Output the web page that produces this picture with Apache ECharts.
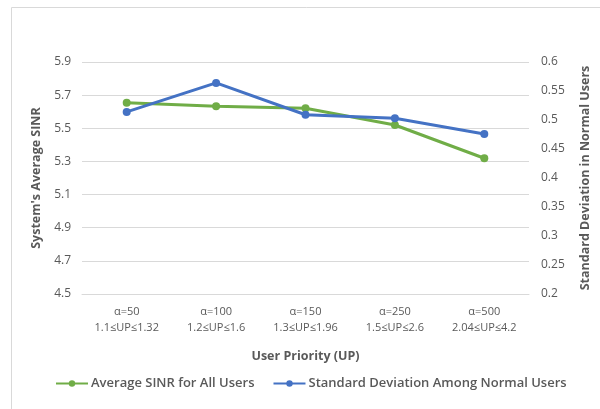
<!DOCTYPE html>
<html><head><meta charset="utf-8">
<script src="https://cdn.jsdelivr.net/npm/echarts@6/dist/echarts.min.js"></script>
<style>html,body{margin:0;padding:0;background:#fff}#c{width:600px;height:409px}</style>
</head><body><div id="c"></div>
<script>
const categories = ['α=50\n1.1≤UP≤1.32','α=100\n1.2≤UP≤1.6','α=150\n1.3≤UP≤1.96','α=250\n1.5≤UP≤2.6','α=500\n2.04≤UP≤4.2'];
const avgSinr = [5.654, 5.633, 5.621, 5.52, 5.319];
const stdDev = [0.514, 0.564, 0.509, 0.503, 0.476];
const seriesNames = ['Average SINR for All Users','Standard Deviation Among Normal Users'];

const chart = echarts.init(document.getElementById('c'));
const font = '"Open Sans", "Noto Sans", sans-serif';
chart.setOption({
  animation:false,
  textStyle:{fontFamily:font},
  graphic:[{type:'rect',shape:{x:11.5,y:7.5,width:600,height:410},style:{fill:'none',stroke:'#d9d9d9',lineWidth:1},silent:true}],
  grid:{left:82,right:68,top:62,bottom:115},
  legend:{bottom:14,left:50,itemWidth:32,itemHeight:8,itemGap:18,
    textStyle:{color:'#595959',fontSize:13,fontWeight:600,fontFamily:font,padding:[0,0,0,-2]},
    data:seriesNames},
  xAxis:{type:'category',data:categories,
    axisLine:{lineStyle:{color:'#d9d9d9'}},axisTick:{show:false},
    axisLabel:{color:'#595959',fontSize:11,lineHeight:16,margin:10},
    name:'User Priority (UP)',nameLocation:'middle',nameGap:56,
    nameTextStyle:{color:'#595959',fontSize:12.5,fontWeight:700}},
  yAxis:[{type:'value',min:4.5,max:5.9,interval:0.2,
    axisLabel:{color:'#595959',fontSize:12,formatter:v=>v.toFixed(1),margin:11},
    splitLine:{lineStyle:{color:'#d9d9d9'}},axisLine:{show:false},axisTick:{show:false},
    name:"System's Average SINR",nameLocation:'middle',nameGap:33,
    nameTextStyle:{color:'#595959',fontSize:12.5,fontWeight:700}},
   {type:'value',min:0.2,max:0.6,interval:0.05,position:'right',
    axisLabel:{color:'#595959',fontSize:12,formatter:v=>String(+v.toFixed(2)),margin:12},
    splitLine:{show:false},axisLine:{show:false},axisTick:{show:false},
    name:'Standard Deviation in Normal Users',nameLocation:'middle',nameGap:50,
    nameTextStyle:{color:'#595959',fontSize:12.5,fontWeight:700}}],
  series:[
    {name:seriesNames[0],type:'line',yAxisIndex:0,data:avgSinr,color:'#70AD47',
     symbol:'circle',symbolSize:8,lineStyle:{width:3}},
    {name:seriesNames[1],type:'line',yAxisIndex:1,data:stdDev,color:'#4472C4',
     symbol:'circle',symbolSize:8,lineStyle:{width:3}}
  ]
});
</script></body></html>
